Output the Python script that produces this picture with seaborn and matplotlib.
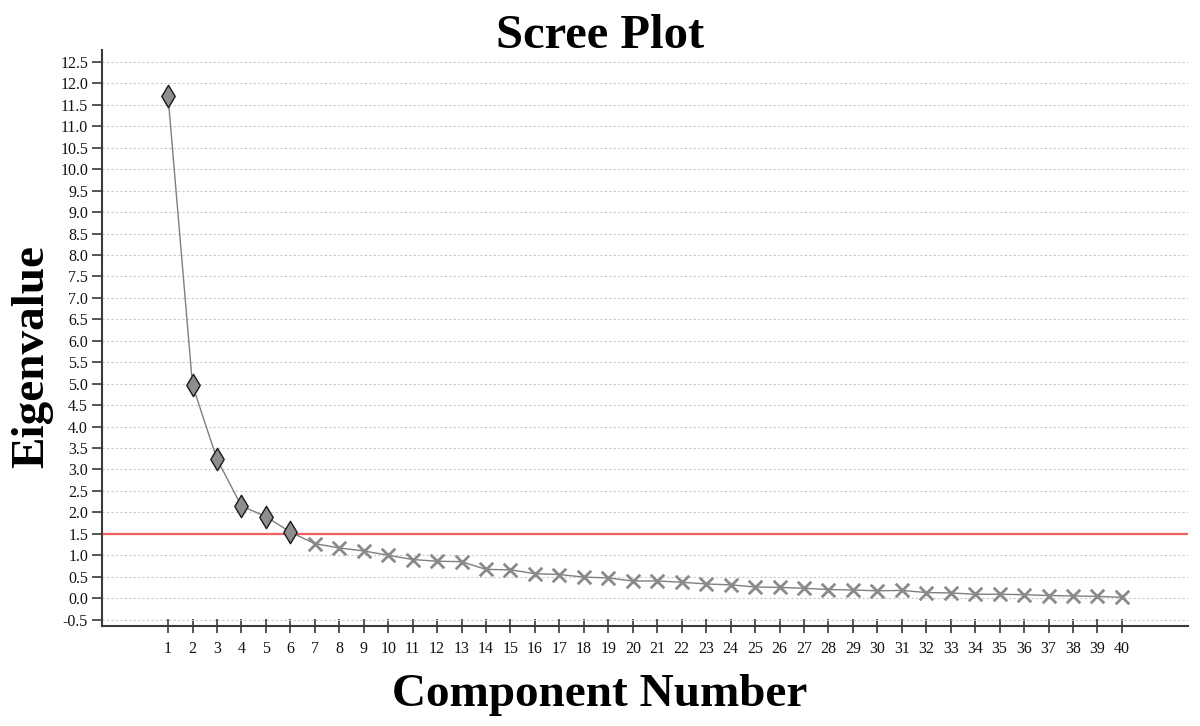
import matplotlib
matplotlib.use("Agg")
import matplotlib.pyplot as plt
import seaborn as sns
import pandas as pd
import numpy as np

# ---- data ----
components = list(range(1, 41))
eigenvalues = [11.70, 4.97, 3.24, 2.15, 1.90, 1.54, 1.27, 1.17, 1.10, 1.00,
               0.90, 0.86, 0.85, 0.67, 0.66, 0.57, 0.55, 0.49, 0.47, 0.40,
               0.40, 0.37, 0.33, 0.31, 0.26, 0.25, 0.23, 0.20, 0.19, 0.17,
               0.18, 0.13, 0.12, 0.09, 0.09, 0.08, 0.06, 0.05, 0.04, 0.02]
n_retained = 6
cutoff = 1.5
y_ticks = [-0.5 + 0.5 * i for i in range(27)]

title = "Scree Plot"
x_label = "Component Number"
y_label = "Eigenvalue"

df = pd.DataFrame({"component": components, "eigenvalue": eigenvalues})
df["kind"] = np.where(df["component"] <= n_retained, "retained", "dropped")

sns.set_theme(style="white")
serif = ["Liberation Serif", "DejaVu Serif"]
plt.rcParams["font.family"] = serif

fig = plt.figure(figsize=(12, 7.26), dpi=100)
ax = fig.add_axes([102 / 1200, 1 - 626 / 726, (1188 - 102) / 1200, (626 - 50) / 726])

# grid
ax.set_yticks(y_ticks)
ax.yaxis.grid(True, linestyle=(0, (2, 2)), color="#c8c8c8", linewidth=0.8)
ax.xaxis.grid(False)
ax.set_axisbelow(True)

# cutoff line
ax.axhline(cutoff, color="#f06060", linewidth=1.6, zorder=1)

# connecting line
sns.lineplot(data=df, x="component", y="eigenvalue", color="#7f7f7f",
             linewidth=1.0, ax=ax, zorder=2)

# markers
sns.scatterplot(data=df[df["kind"] == "retained"], x="component", y="eigenvalue",
                marker="d", s=130, color="#8e8e8e", edgecolor="#1a1a1a",
                linewidth=1.0, ax=ax, zorder=3)
sns.scatterplot(data=df[df["kind"] == "dropped"], x="component", y="eigenvalue",
                marker="x", s=95, color="#8a8a8a", linewidth=2.0, ax=ax, zorder=3)

ax.set_xlim(-1.7, 42.7)
ax.set_ylim(-0.65, 12.78)
ax.set_xticks(components)
ax.set_xticklabels([str(c) for c in components])
ax.set_yticklabels([f"{v:.1f}" for v in y_ticks])
ax.set_xlabel("")
ax.set_ylabel("")

for side in ["top", "right"]:
    ax.spines[side].set_visible(False)
for side in ["left", "bottom"]:
    ax.spines[side].set_color("#3a3a3a")
    ax.spines[side].set_linewidth(1.5)

ax.tick_params(axis="y", direction="out", length=7, width=1.2, color="#3a3a3a",
               labelsize=11.5, pad=3, left=True)
ax.tick_params(axis="x", direction="inout", length=10, width=1.2, color="#3a3a3a",
               labelsize=11.5, pad=6, bottom=True)
for lab in ax.get_xticklabels() + ax.get_yticklabels():
    lab.set_color("#111111")

fig.text(0.5, 1 - 48 / 726, title, ha="center", va="baseline",
         fontsize=35, fontweight="bold", color="black")
fig.text(0.5, 1 - 706 / 726, x_label, ha="center", va="baseline",
         fontsize=34, fontweight="bold", color="black")
fig.text(43 / 1200, 1 - 357 / 726, y_label, ha="center", va="baseline",
         rotation=90, rotation_mode="anchor", fontsize=34, fontweight="bold",
         color="black")

fig.savefig("out.png", dpi=100, facecolor="white")
